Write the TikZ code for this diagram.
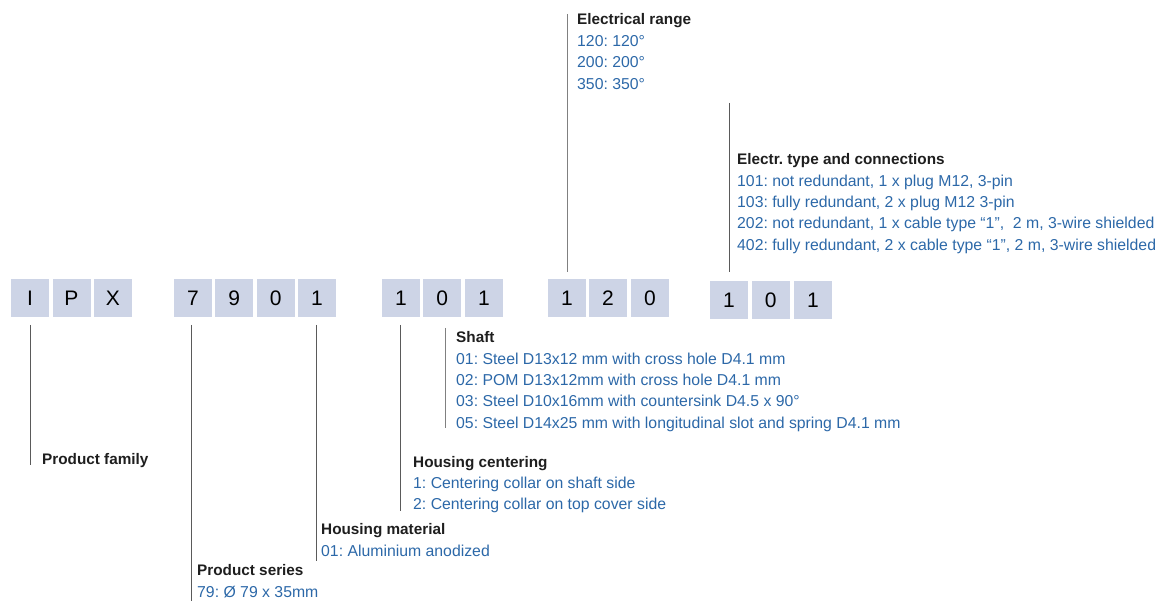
\documentclass[tikz,border=0pt]{standalone}
\usepackage{fontspec}
\setmainfont{Liberation Sans}
\usetikzlibrary{calc}
\definecolor{boxfill}{RGB}{205,212,230}
\definecolor{dark}{RGB}{30,30,30}
\definecolor{itemblue}{RGB}{44,104,168}
\definecolor{leadgray}{RGB}{90,90,90}
\tikzset{
  digitbox/.style={fill=boxfill, minimum width=38pt, minimum height=38pt, inner sep=0pt, text=black, font=\fontsize{21}{24}\selectfont},
  head/.style={anchor=base west, inner sep=0pt, text=dark, font=\fontsize{15.3}{18}\selectfont\bfseries},
  item/.style={anchor=base west, inner sep=0pt, text=itemblue, font=\fontsize{15.8}{18}\selectfont},
  leader/.style={draw=leadgray, line width=0.9pt}
}
\frenchspacing
\begin{document}
\begin{tikzpicture}[x=1pt,y=-1pt]
\useasboundingbox (0,0) rectangle (1162,601);
% code boxes
\node[digitbox] (b1) at (30,298) {I};
\node[digitbox] (b2) at (71.5,298) {P};
\node[digitbox] (b3) at (113,298) {X};
\node[digitbox] (b4) at (193,298) {7};
\node[digitbox] (b5) at (234.3,298) {9};
\node[digitbox] (b6) at (275.7,298) {0};
\node[digitbox] (b7) at (317,298) {1};
\node[digitbox] (b8) at (401,298) {1};
\node[digitbox] (b9) at (442.3,298) {0};
\node[digitbox] (b10) at (484,298) {1};
\node[digitbox] (b11) at (567,298) {1};
\node[digitbox] (b12) at (608,298) {2};
\node[digitbox] (b13) at (650,298) {0};
\node[digitbox] (b14) at (729,300) {1};
\node[digitbox] (b15) at (770.7,300) {0};
\node[digitbox] (b16) at (813,300) {1};

% Electrical range
\node[head] (erH) at (577,25) {Electrical range};
\node[item] (er1) at (577,46.5) {120: 120°};
\node[item] (er2) at (577,68) {200: 200°};
\node[item] (er3) at (577,89.5) {350: 350°};
\coordinate (erTop) at (567,14);
\coordinate (erBot) at (567,272);
\draw[leader, draw=gray] (erTop) -- (erBot);

% Electr. type and connections
\node[head] (etH) at (737,165) {Electr. type and connections};
\node[item] (et1) at (737,186.3) {101: not redundant, 1 x plug M12, 3-pin};
\node[item] (et2) at (737,207.6) {103: fully redundant, 2 x plug M12 3-pin};
\node[item] (et3) at (737,228.9) {202: not redundant, 1 x cable type “1”,\ \ 2 m, 3-wire shielded};
\node[item] (et4) at (737,250.2) {402: fully redundant, 2 x cable type “1”, 2 m, 3-wire shielded};
\coordinate (etTop) at (729.5,103);
\coordinate (etBot) at (729.5,272);
\draw[leader] (etTop) -- (etBot);

% Shaft
\node[head] (shH) at (456,343) {Shaft};
\node[item] (sh1) at (456,364.3) {01: Steel D13x12 mm with cross hole D4.1 mm};
\node[item] (sh2) at (456,385.6) {02: POM D13x12mm with cross hole D4.1 mm};
\node[item] (sh3) at (456,406.9) {03: Steel D10x16mm with countersink D4.5 x 90°};
\node[item] (sh4) at (456,428.2) {05: Steel D14x25 mm with longitudinal slot and spring D4.1 mm};
\coordinate (shTop) at (445,328);
\coordinate (shBot) at (445,428);
\draw[leader, draw=gray] (shTop) -- (shBot);

% Housing centering
\node[head] (hcH) at (413,467) {Housing centering};
\node[item] (hc1) at (413,488.3) {1: Centering collar on shaft side};
\node[item] (hc2) at (413,509.6) {2: Centering collar on top cover side};
\coordinate (hcTop) at (400,325);
\coordinate (hcBot) at (400,511);
\draw[leader] (hcTop) -- (hcBot);

% Housing material
\node[head] (hmH) at (321,534.5) {Housing material};
\node[item] (hm1) at (321,556) {01: Aluminium anodized};
\coordinate (hmTop) at (316,325);
\coordinate (hmBot) at (316,561);
\draw[leader] (hmTop) -- (hmBot);

% Product series
\node[head] (psH) at (197,575.5) {Product series};
\node[item] (ps1) at (197,597) {79: Ø 79 x 35mm};
\coordinate (psTop) at (191,325);
\coordinate (psBot) at (191,601);
\draw[leader] (psTop) -- (psBot);

% Product family
\node[head] (pfH) at (42,464.5) {Product family};
\coordinate (pfTop) at (30,325);
\coordinate (pfBot) at (30,465);
\draw[leader] (pfTop) -- (pfBot);
\end{tikzpicture}
\end{document}
